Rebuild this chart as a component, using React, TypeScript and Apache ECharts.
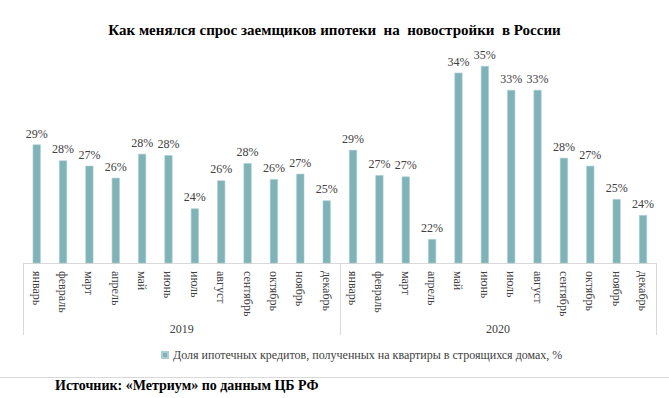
import React, { useEffect, useRef } from "react";
import * as echarts from "echarts";

const months = ["январь", "февраль", "март", "апрель", "май", "июнь", "июль", "август", "сентябрь", "октябрь", "ноябрь", "декабрь"];
const years = ["2019", "2020"];
const values2019 = [28.9, 27.7, 27.3, 26.4, 28.2, 28.1, 24.1, 26.2, 27.5, 26.3, 26.7, 24.7];
const values2020 = [28.5, 26.6, 26.5, 21.8, 34.3, 34.8, 33.0, 33.0, 27.9, 27.3, 24.8, 23.6];
const seriesName = "Доля ипотечных кредитов, полученных на квартиры в строящихся домах, %";
const titleText = "Как менялся спрос заемщиков ипотеки  на  новостройки  в России";
const sourceText = "Источник: «Метриум» по данным ЦБ РФ";

const SERIF = "Liberation Serif";

export default function App() {
  const ref = useRef<HTMLDivElement>(null);
  useEffect(() => {
    if (!ref.current) return;
    const chart = echarts.init(ref.current, null, { renderer: "svg" });
    const categories = [...months, ...months];
    const values = [...values2019, ...values2020];
    chart.setOption({
      animation: false,
      backgroundColor: "#ffffff",
      title: {
        text: titleText,
        left: "center",
        top: 17,
        textStyle: { fontFamily: SERIF, fontWeight: "bold", fontSize: 15, color: "#000000" },
      },
      legend: {
        data: [seriesName],
        left: 156,
        top: 344,
        icon: "rect",
        itemWidth: 6,
        itemHeight: 6,
        textStyle: { fontFamily: SERIF, fontSize: 12, color: "#404040" },
      },
      grid: { left: 23.5, right: 12.8, top: 50, bottom: 135, containLabel: false },
      xAxis: [
        {
          type: "category",
          data: categories,
          position: "bottom",
          axisLine: { show: true, lineStyle: { color: "#d9d9d9", width: 1 } },
          axisTick: { show: false },
          axisLabel: {
            interval: 0,
            rotate: -90,
            margin: 8,
            fontFamily: SERIF,
            fontSize: 12,
            color: "#404040",
          },
        },
        {
          type: "category",
          data: years,
          position: "bottom",
          axisLine: { show: false },
          axisTick: { show: true, length: 72, interval: 0, lineStyle: { color: "#d9d9d9", width: 1 } },
          axisLabel: { margin: 60, fontFamily: SERIF, fontSize: 12, color: "#404040" },
        },
      ],
      yAxis: { type: "value", min: 20, max: 36, show: false, splitLine: { show: false } },
      series: [
        {
          name: seriesName,
          type: "bar",
          xAxisIndex: 0,
          data: values,
          barWidth: 8,
          itemStyle: { color: "#7fb3b7", borderColor: "#a9cfd2", borderWidth: 0.6 },
          label: {
            show: true,
            position: "top",
            distance: 5,
            fontFamily: SERIF,
            fontSize: 12,
            color: "#404040",
            formatter: (p: any) => Math.round(p.value) + "%",
          },
        },
      ],
      graphic: [
        {
          type: "line",
          shape: { x1: 0, y1: 377.5, x2: 669, y2: 377.5 },
          style: { stroke: "#d9d9d9", lineWidth: 1 },
        },
        {
          type: "text",
          x: 55,
          y: 385,
          style: {
            text: sourceText,
            fontFamily: SERIF,
            fontWeight: "bold",
            fontSize: 14,
            fill: "#000000",
            verticalAlign: "middle",
          },
        },
      ],
    });
    return () => chart.dispose();
  }, []);
  return <div ref={ref} style={{ position: "absolute", left: 0, top: 0, width: 669, height: 398 }} />;
}
